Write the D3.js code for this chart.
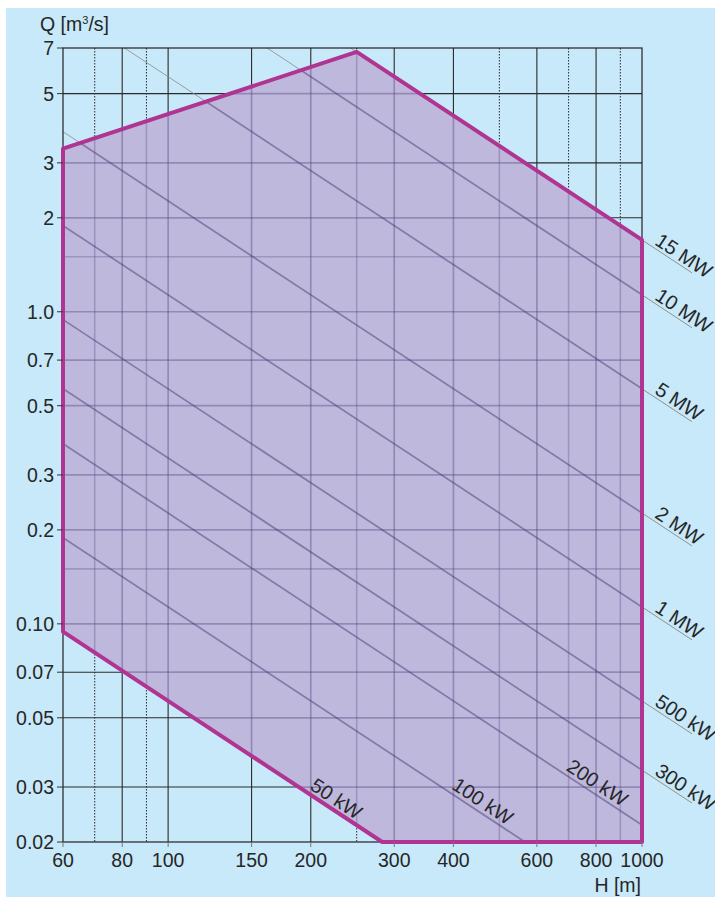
<!DOCTYPE html>
<html>
<head>
<meta charset="utf-8">
<script src="https://cdn.jsdelivr.net/npm/d3@7"></script>
<style>
  html, body { margin: 0; padding: 0; background: #fff; }
  svg { display: block; }
  text { font-family: "Liberation Sans", Arial, Helvetica, sans-serif; fill: #262626; }
</style>
</head>
<body>
<div id="chart"></div>
<script>
// head H [m] and flow Q [m3/s] grid and ticks
var hTicks = [60, 80, 100, 150, 200, 300, 400, 600, 800, 1000];
var hGridSolid = [80, 100, 150, 200, 300, 400, 600, 800];
var hGridDotted = [70, 90, 250, 500, 700, 900];
var qTicks = [0.02, 0.03, 0.05, 0.07, 0.1, 0.2, 0.3, 0.5, 0.7, 1, 2, 3, 5, 7];
var qTickLabels = ["0.02", "0.03", "0.05", "0.07", "0.10", "0.2", "0.3", "0.5", "0.7", "1.0", "2", "3", "5", "7"];
var qGridSolid = [0.03, 0.05, 0.07, 0.1, 0.2, 0.3, 0.5, 0.7, 1, 2, 3, 5];
var qGridDotted = [0.15, 1.5];

// power lines P = 9.81 * 0.9 * Q * H  [kW]
var powerKW = [50, 100, 200, 300, 500, 1000, 2000, 5000, 10000, 15000];
var powerLabels = ["50 kW", "100 kW", "200 kW", "300 kW", "500 kW", "1 MW", "2 MW", "5 MW", "10 MW", "15 MW"];
// labels inside the plot sit at this head; null = label outside on the right
var labelH = [220, 448, 782, null, null, null, null, null, null, null];

// application range envelope
var envH = [60, 60, 250, 1000, 1000, 283];
var envQ = [0.0944, 3.33, 6.8, 1.70, 0.02, 0.02];

var W = 715, Ht = 897;
var k = 9.81 * 0.9;
function qOf(p, h) { return p / (k * h); }

var svg = d3.select("#chart").append("svg").attr("width", W).attr("height", Ht);

var x = d3.scaleLog().domain([60, 1000]).range([63, 642]);
var y = d3.scaleLog().domain([0.02, 7]).range([842, 48]);

svg.append("rect").attr("x", 6).attr("y", 8).attr("width", W - 6).attr("height", Ht - 8)
  .attr("fill", "#c7e9f9");

var defs = svg.append("defs");
defs.append("clipPath").attr("id", "plotClip").append("rect")
  .attr("x", x(60)).attr("y", y(7)).attr("width", x(1000) - x(60)).attr("height", y(0.02) - y(7));

var env = envH.map(function (h, i) { return [x(h), y(envQ[i])]; });
var envPath = "M" + env.map(function (p) { return p.join(","); }).join("L") + "Z";
defs.append("clipPath").attr("id", "envClip").append("path").attr("d", envPath);

function drawGrid(g, solidStyle, dottedStyle) {
  g.selectAll(".vs").data(hGridSolid).enter().append("line")
    .attr("x1", function (d) { return x(d); }).attr("x2", function (d) { return x(d); })
    .attr("y1", y(7)).attr("y2", y(0.02)).call(solidStyle);
  g.selectAll(".vd").data(hGridDotted).enter().append("line")
    .attr("x1", function (d) { return x(d); }).attr("x2", function (d) { return x(d); })
    .attr("y1", y(7)).attr("y2", y(0.02)).call(dottedStyle);
  g.selectAll(".hs").data(qGridSolid).enter().append("line")
    .attr("y1", function (d) { return y(d); }).attr("y2", function (d) { return y(d); })
    .attr("x1", x(60)).attr("x2", x(1000)).call(solidStyle);
  g.selectAll(".hd").data(qGridDotted).enter().append("line")
    .attr("y1", function (d) { return y(d); }).attr("y2", function (d) { return y(d); })
    .attr("x1", x(60)).attr("x2", x(1000)).call(dottedStyle);
}

function drawPower(g, style) {
  g.selectAll("line.p").data(powerKW).enter().append("line").attr("class", "p")
    .attr("x1", x(60)).attr("y1", function (d) { return y(qOf(d, 60)); })
    .attr("x2", x(1000)).attr("y2", function (d) { return y(qOf(d, 1000)); })
    .call(style);
}

// background grid + thin power lines
var under = svg.append("g").attr("clip-path", "url(#plotClip)");
drawGrid(under,
  function (s) { s.attr("stroke", "#2b2b2b").attr("stroke-width", 1.1); },
  function (s) { s.attr("stroke", "#2b2b2b").attr("stroke-width", 1).attr("stroke-dasharray", "1.5,1.5"); });
drawPower(under, function (s) { s.attr("stroke", "#8a8a8a").attr("stroke-width", 0.8); });

// envelope fill
svg.append("path").attr("d", envPath).attr("fill", "#bfb8dd");

// lines seen through the fill
var over = svg.append("g").attr("clip-path", "url(#envClip)");
drawGrid(over,
  function (s) { s.attr("stroke", "rgba(80,68,125,0.4)").attr("stroke-width", 1.7); },
  function (s) { s.attr("stroke", "rgba(80,68,125,0.3)").attr("stroke-width", 1.6); });
drawPower(over, function (s) { s.attr("stroke", "rgba(70,58,115,0.5)").attr("stroke-width", 1.7); });

// frame
svg.append("rect").attr("x", x(60)).attr("y", y(7)).attr("width", x(1000) - x(60))
  .attr("height", y(0.02) - y(7)).attr("fill", "none").attr("stroke", "#222").attr("stroke-width", 1.2);

// envelope outline
svg.append("path").attr("d", envPath).attr("fill", "none")
  .attr("stroke", "#b03491").attr("stroke-width", 4).attr("stroke-linejoin", "round");

// ticks
svg.selectAll(".yt").data(qTicks).enter().append("line")
  .attr("x1", x(60) - 6).attr("x2", x(60)).attr("y1", function (d) { return y(d); })
  .attr("y2", function (d) { return y(d); }).attr("stroke", "#333").attr("stroke-width", 1);
svg.selectAll(".xt").data(hTicks).enter().append("line")
  .attr("x1", function (d) { return x(d); }).attr("x2", function (d) { return x(d); })
  .attr("y1", y(0.02)).attr("y2", y(0.02) + 5).attr("stroke", "#777").attr("stroke-width", 1);

svg.selectAll(".yl").data(qTicks).enter().append("text")
  .attr("x", x(60) - 9).attr("y", function (d) { return y(d); }).attr("dy", "0.36em")
  .attr("text-anchor", "end").style("font-size", "19.5px")
  .text(function (d, i) { return qTickLabels[i]; });
svg.selectAll(".xl").data(hTicks).enter().append("text")
  .attr("x", function (d) { return x(d); }).attr("y", 867)
  .attr("text-anchor", "middle").style("font-size", "19.5px")
  .text(function (d) { return d; });

// axis titles
var qt = svg.append("text").attr("x", 40).attr("y", 31).style("font-size", "19.5px");
qt.append("tspan").text("Q [m");
qt.append("tspan").attr("dy", -7).style("font-size", "11px").text("3");
qt.append("tspan").attr("dy", 7).text("/s]");
svg.append("text").attr("x", 641).attr("y", 892).attr("text-anchor", "end")
  .style("font-size", "19.5px").text("H [m]");

// power labels
var slope = (y(qOf(1000, 1000)) - y(qOf(1000, 100))) / (x(1000) - x(100));
var ang = Math.atan(slope) * 180 / Math.PI;
var leadDx = 48;

powerKW.forEach(function (p, i) {
  if (labelH[i] !== null) {
    var px = x(labelH[i]), py = y(qOf(p, labelH[i]));
    svg.append("text").attr("transform", "translate(" + px + "," + py + ") rotate(" + ang + ")")
      .attr("text-anchor", "middle").attr("dy", -4).style("font-size", "20px")
      .text(powerLabels[i]);
  } else {
    var x0 = x(1000) + 2, y0 = y(qOf(p, 1000)) + 2 * slope;
    svg.append("line").attr("x1", x0).attr("y1", y0)
      .attr("x2", x0 + leadDx).attr("y2", y0 + leadDx * slope)
      .attr("stroke", "#888").attr("stroke-width", 0.9);
    var tx = x0 + 8, ty = y0 + 8 * slope;
    svg.append("text").attr("transform", "translate(" + tx + "," + ty + ") rotate(" + ang + ")")
      .attr("dy", -3).style("font-size", "20px").text(powerLabels[i]);
  }
});
</script>
</body>
</html>
